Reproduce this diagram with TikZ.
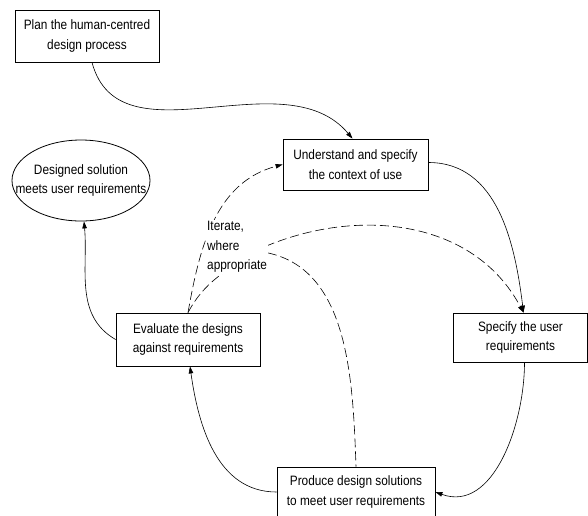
\documentclass[tikz,border=0pt]{standalone}
\usepackage{fontspec}
\setmainfont{Liberation Sans}[FakeStretch=0.87]
\usetikzlibrary{arrows.meta,shapes.geometric}

\begin{document}
\begin{tikzpicture}[x=1pt,y=1pt,
  font=\fontsize{13.6}{19.5}\selectfont,
  stage/.style={draw,line width=0.8pt,fill=white,align=center,inner sep=2pt},
  flow/.style={line width=0.6pt,-{Triangle[length=7pt,width=4.5pt]}},
  iter/.style={line width=0.6pt,dash pattern=on 9pt off 4pt}]
\useasboundingbox (0,0) rectangle (588,-515);

% the process steps
\node (plan) [stage,minimum width=144,minimum height=52] at (87,-36) {Plan the human-centred\\design process};
\node (context) [stage,minimum width=145,minimum height=51] at (355.5,-164.5) {Understand and specify\\the context of use};
\node (goal) [draw,line width=0.8pt,ellipse,minimum width=138,minimum height=81,align=center,inner xsep=-30pt,inner ysep=0pt] at (81,-180.5) {Designed solution\\meets user requirements};
\node (evaluate) [stage,minimum width=144,minimum height=53] at (188,-339.5) {Evaluate the designs\\against requirements};
\node (specify) [stage,minimum width=134,minimum height=49] at (520.5,-337.5) {Specify the user\\requirements};
\node (produce) [stage,minimum width=158,minimum height=50] at (356,-492) {Produce design solutions\\to meet user requirements};

% the cycle
\draw [flow] ([xshift=5]plan.south) to[out=-75,in=130] ([xshift=-3]context.north);
\draw [flow] ([yshift=2]context.east) to[out=0,in=97] ([xshift=3]specify.north);
\draw [flow] ([xshift=4]specify.south) to[out=-90,in=-20] (produce.east);
\draw [flow] (produce.west) to[out=180,in=-82] ([xshift=2]evaluate.south);
\draw [flow] (evaluate.west) to[out=150,in=-85] ([xshift=3]goal.south);

% iteration
\coordinate (fork) at (255,-251);
\draw [iter,-{Triangle[length=7pt,width=4.5pt]}] (evaluate.north) to[out=80,in=195] (context.west);
\draw [iter,-{Triangle[length=7pt,width=4.5pt]}] (evaluate.north) to[out=62,in=215] (fork) to[out=25,in=118] ([xshift=3]specify.north);
\draw [iter] (fork) to[out=-5,in=92] (produce.north);
\node (note) [fill=white,align=left,inner sep=1pt,anchor=west] at (206,-247) {Iterate,\\where\\appropriate};
\end{tikzpicture}
\end{document}
